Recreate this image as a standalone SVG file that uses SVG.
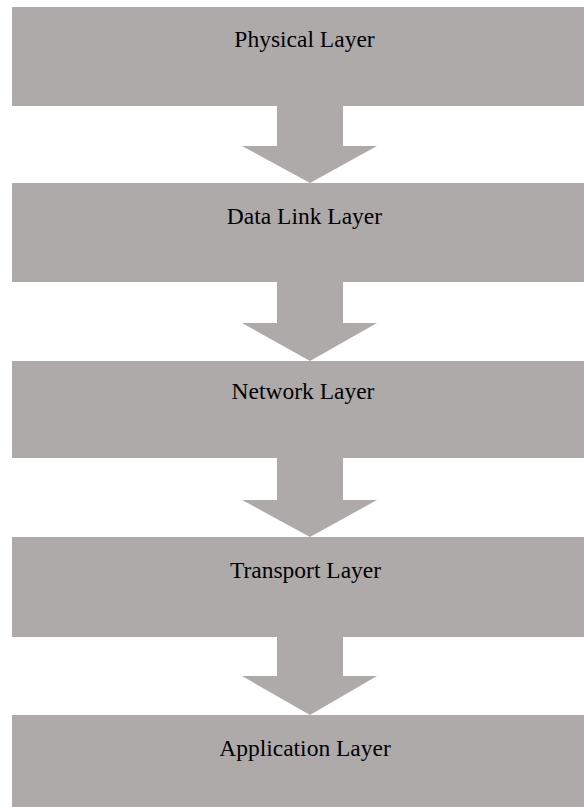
<svg xmlns="http://www.w3.org/2000/svg" width="584" height="807" viewBox="0 0 584 807">
<style>
.box{fill:#AEAAAA}
.arr{fill:#AEAAAA}
.lbl{font-family:"Liberation Serif","Times New Roman",serif;font-size:23.5px;fill:#000;text-anchor:middle}
</style>
<rect width="584" height="807" fill="#fff"/>
<g id="connectors">
<polygon class="arr" points="277,106 343,106 343,146 377,146 310,183 242,146 277,146"/>
<polygon class="arr" points="277,282 343,282 343,323 377,323 310,361 242,323 277,323"/>
<polygon class="arr" points="277,458 343,458 343,500 377,500 310,537 242,500 277,500"/>
<polygon class="arr" points="277,637 343,637 343,676 377,676 310,715 242,676 277,676"/>
</g>
<g id="physical"><rect class="box" x="12" y="7" width="572" height="99"/><text class="lbl" x="304.5" y="47">Physical Layer</text></g>
<g id="datalink"><rect class="box" x="12" y="183" width="572" height="99"/><text class="lbl" x="304.5" y="224">Data Link Layer</text></g>
<g id="network"><rect class="box" x="12" y="361" width="572" height="97"/><text class="lbl" x="303" y="399">Network Layer</text></g>
<g id="transport"><rect class="box" x="12" y="537" width="572" height="100"/><text class="lbl" x="305.5" y="578">Transport Layer</text></g>
<g id="application"><rect class="box" x="12" y="715" width="572" height="92"/><text class="lbl" x="305" y="756">Application Layer</text></g>
</svg>
